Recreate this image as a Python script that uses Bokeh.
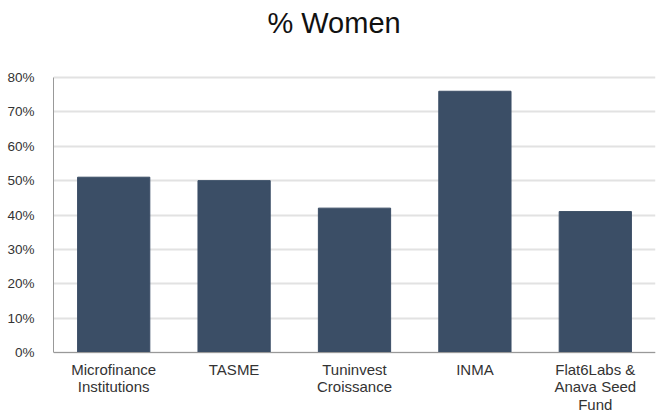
from bokeh.plotting import figure
from bokeh.models import NumeralTickFormatter, FixedTicker, Range1d, Span, ColumnDataSource
from bokeh.core.properties import value
from bokeh.embed import file_html
from bokeh.resources import INLINE

categories = ["Microfinance\nInstitutions", "TASME", "Tuninvest\nCroissance", "INMA", "Flat6Labs &\nAnava Seed\nFund"]
values = [0.51, 0.50, 0.42, 0.76, 0.41]
y_ticks = [0, 0.1, 0.2, 0.3, 0.4, 0.5, 0.6, 0.7, 0.8]
title_text = "% Women"

# frame spans the whole canvas height: 0.8 at y=77px, 0 at y=352px
px_per_unit = (352 - 77) / 0.8
y_start = -(415 - 352) / px_per_unit
y_end = 0.8 + 77 / px_per_unit

p = figure(x_range=categories, y_range=Range1d(y_start, y_end), width=659, height=415,
           output_backend="svg", toolbar_location=None, x_axis_location=None)
p.vbar(x=categories, top=values, width=0.6, color="#3b4e66", line_color="#3b4e66")

src = ColumnDataSource(dict(x=categories, y=[-8 / px_per_unit] * len(categories), t=categories))
p.text(x="x", y="y", text="t", source=src, text_align="center", text_baseline="top",
       text_font=value("Liberation Sans"), text_font_size="15px", text_color="#333333",
       text_line_height=1.04)

p.text(x=[2.33], y=[0.8 + 55 / px_per_unit], text=[title_text], text_align="center",
       text_baseline="middle", text_font=value("Liberation Sans"), text_font_size="29px",
       text_color="#111111")

p.add_layout(Span(location=0, dimension="width", line_color="#999999", line_width=1))

p.min_border_left = 53
p.min_border_right = 4
p.min_border_top = 0
p.min_border_bottom = 0

p.outline_line_color = None
p.xgrid.grid_line_color = None
p.ygrid.grid_line_color = "#e2e2e2"
p.ygrid.grid_line_width = 2
p.yaxis.ticker = FixedTicker(ticks=y_ticks)
p.yaxis.bounds = (0, 0.8)
p.yaxis.formatter = NumeralTickFormatter(format="0%")
p.yaxis.axis_line_color = "#999999"
p.yaxis.major_tick_line_color = None
p.yaxis.minor_tick_line_color = None
p.yaxis.major_label_text_font = "Liberation Sans"
p.yaxis.major_label_text_font_size = "13.5px"
p.yaxis.major_label_text_color = "#333333"
p.yaxis.major_label_standoff = 13

open("out.html", "w").write(file_html(p, INLINE))
